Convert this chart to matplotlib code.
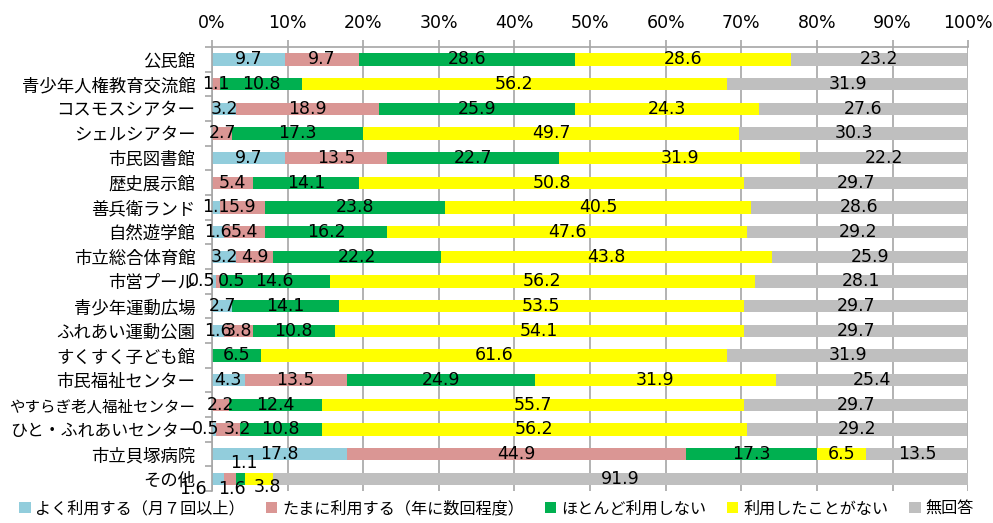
import numpy as np
import matplotlib.pyplot as plt
from matplotlib.patches import Patch

plt.rcParams['font.family'] = ['Noto Sans CJK JP', 'DejaVu Sans']

facilities = ["公民館", "青少年人権教育交流館", "コスモスシアター", "シェルシアター",
              "市民図書館", "歴史展示館", "善兵衛ランド", "自然遊学館", "市立総合体育館",
              "市営プール", "青少年運動広場", "ふれあい運動公園", "すくすく子ども館",
              "市民福祉センター", "やすらぎ老人福祉センター", "ひと・ふれあいセンター",
              "市立貝塚病院", "その他"]

often = [9.7, 0, 3.2, 0, 9.7, 0, 1.1, 1.6, 3.2, 0.5, 2.7, 1.6, 0, 4.3, 0, 0.5, 17.8, 1.6]
sometimes = [9.7, 1.1, 18.9, 2.7, 13.5, 5.4, 5.9, 5.4, 4.9, 0.5, 0, 3.8, 0, 13.5, 2.2, 3.2, 44.9, 1.6]
rarely = [28.6, 10.8, 25.9, 17.3, 22.7, 14.1, 23.8, 16.2, 22.2, 14.6, 14.1, 10.8, 6.5, 24.9, 12.4, 10.8, 17.3, 1.1]
never = [28.6, 56.2, 24.3, 49.7, 31.9, 50.8, 40.5, 47.6, 43.8, 56.2, 53.5, 54.1, 61.6, 31.9, 55.7, 56.2, 6.5, 3.8]
no_answer = [23.2, 31.9, 27.6, 30.3, 22.2, 29.7, 28.6, 29.2, 25.9, 28.1, 29.7, 29.7, 31.9, 25.4, 29.7, 29.2, 13.5, 91.9]

series = [often, sometimes, rarely, never, no_answer]
names = ["よく利用する（月７回以上）", "たまに利用する（年に数回程度）", "ほとんど利用しない",
         "利用したことがない", "無回答"]
colors = ["#92CDDC", "#DA9694", "#00B050", "#FFFF00", "#BFBFBF"]

# label nudges (row name, series index) -> (x in %, y offset in rows), as moved in the original
nudges = {
    ("その他", 0): (-2.5, 0.42),
    ("その他", 1): (2.6, 0.42),
    ("その他", 2): (4.2, -0.65),
    ("その他", 3): (7.3, 0.33),
    ("市営プール", 0): (-1.4, 0.0),
    ("市営プール", 1): (2.6, 0.0),
    ("ひと・ふれあいセンター", 0): (-0.8, 0.0),
    ("ひと・ふれあいセンター", 1): (3.3, 0.0),
}

fig = plt.figure(figsize=(9.93, 5.23), dpi=100)
ax = fig.add_axes([0.2135, 0.061, 0.7615, 0.849])

num_font = dict(family="DejaVu Sans", fontsize=12.5)
y = np.arange(len(facilities))
left = np.zeros(len(facilities))
for k, (vals, col) in enumerate(zip(series, colors)):
    vals = np.array(vals)
    ax.barh(y, vals, left=left, height=0.5, color=col, zorder=2)
    for i, v in enumerate(vals):
        if v == 0:
            continue
        cx, cy = left[i] + v / 2, y[i]
        if (facilities[i], k) in nudges:
            cx, dy = nudges[(facilities[i], k)]
            cy = y[i] + dy
        ax.text(cx, cy, f"{v:.1f}", ha="center", va="center", color="black",
                zorder=3, **num_font)
    left += vals

ax.set_xlim(0, 100)
ax.set_ylim(len(facilities) - 0.5, -0.5)
ax.set_xticks(np.arange(0, 101, 10))
ax.set_xticklabels([f"{t}%" for t in range(0, 101, 10)], **num_font)
ax.xaxis.tick_top()
ax.tick_params(axis="x", length=5, color="#a6a6a6", width=1.2, pad=6)
ax.grid(axis="x", color="#a6a6a6", linewidth=1.2, zorder=0)

ax.set_yticks(y)
ax.set_yticklabels(facilities)
# long names are drawn a bit smaller so they fit left of the axis
for lbl, name in zip(ax.get_yticklabels(), facilities):
    lbl.set_fontsize(min(12.5, 186 / (len(name) * 1.389)))
ax.set_yticks(np.arange(-0.5, len(facilities), 1), minor=True)
ax.tick_params(axis="y", which="major", length=0, pad=12)
ax.tick_params(axis="y", which="minor", length=5, color="#a6a6a6", width=1.2)

for side in ["right", "bottom"]:
    ax.spines[side].set_visible(False)
for side in ["top", "left"]:
    ax.spines[side].set_color("#a6a6a6")
    ax.spines[side].set_linewidth(1.2)

handles = [Patch(facecolor=c, edgecolor="none") for c in colors]
fig.legend(handles, names, loc="lower center", bbox_to_anchor=(0.5, -0.017), ncol=5,
           frameon=False, fontsize=11.6, handlelength=0.7, handleheight=0.7,
           handletextpad=0.3, columnspacing=1.3)

fig.savefig("out.png", dpi=100)
